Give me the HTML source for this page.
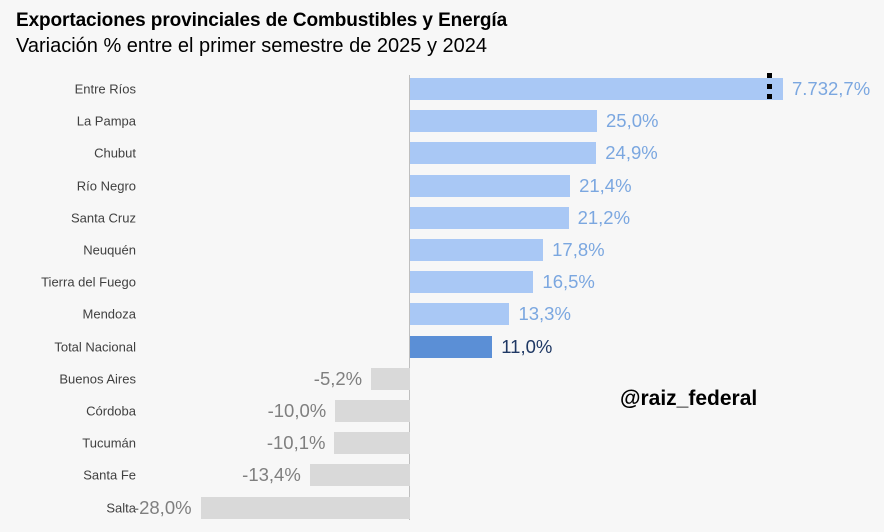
<!DOCTYPE html>
<html><head><meta charset="utf-8"><style>
body{margin:0;width:884px;height:532px;background:#f7f7f7;font-family:"Liberation Sans",sans-serif;position:relative;overflow:hidden}
.t{position:absolute;left:16px;top:10px;font-size:19px;font-weight:bold;color:#000;letter-spacing:-0.1px}
.s{position:absolute;left:16px;top:35px;font-size:20px;color:#000}
.c{position:absolute;right:748px;font-size:13px;color:#404040;white-space:nowrap;transform:translateY(-50%)}
.b{position:absolute;height:22px;transform:translateY(-50%)}
.v{position:absolute;font-size:18.5px;transform:translateY(-50%);white-space:nowrap}
.ax{position:absolute;left:409px;top:75px;width:1px;height:445px;background:#bfbfbf}
.d{position:absolute;left:767px;width:5px;height:5px;background:#000}
</style></head><body>
<div class="t">Exportaciones provinciales de Combustibles y Energía</div>
<div class="s">Variación % entre el primer semestre de 2025 y 2024</div>
<div class="ax"></div>
<div id="c"></div>
<div class="d" style="top:73px"></div><div class="d" style="top:84px"></div><div class="d" style="top:94px"></div>
<div style="position:absolute;left:620px;top:387px;font-size:21px;font-weight:bold;color:#000">@raiz_federal</div>
<script>
var d=[["Entre Ríos",50.0,"7.732,7%"],["La Pampa",25.0,"25,0%"],["Chubut",24.9,"24,9%"],["Río Negro",21.4,"21,4%"],["Santa Cruz",21.2,"21,2%"],["Neuquén",17.8,"17,8%"],["Tierra del Fuego",16.5,"16,5%"],["Mendoza",13.3,"13,3%"],["Total Nacional",11.0,"11,0%"],["Buenos Aires",-5.2,"-5,2%"],["Córdoba",-10.0,"-10,0%"],["Tucumán",-10.1,"-10,1%"],["Santa Fe",-13.4,"-13,4%"],["Salta",-28.0,"-28,0%"]];
var h="";
d.forEach(function(r,i){var y=89+i*32.2,w,x;
if(i==0){w=373}else w=Math.abs(r[1])*7.48;
x=r[1]>0?410:410-w;
var col=r[1]<0?"#d9d9d9":(i==8?"#5b8fd6":"#a9c8f5");
var tc=r[1]<0?"#7f7f7f":(i==8?"#1f3864":"#7ba7e0");
h+='<div class="c" style="top:'+y+'px">'+r[0]+'</div>';
h+='<div class="b" style="top:'+y+'px;left:'+x+'px;width:'+w+'px;background:'+col+'"></div>';
if(r[1]>0)h+='<div class="v" style="top:'+y+'px;left:'+(x+w+9)+'px;color:'+tc+'">'+r[2]+'</div>';
else h+='<div class="v" style="top:'+y+'px;right:'+(884-x+9)+'px;color:'+tc+'">'+r[2]+'</div>';
});
document.getElementById("c").innerHTML=h;
</script>
</body></html>
